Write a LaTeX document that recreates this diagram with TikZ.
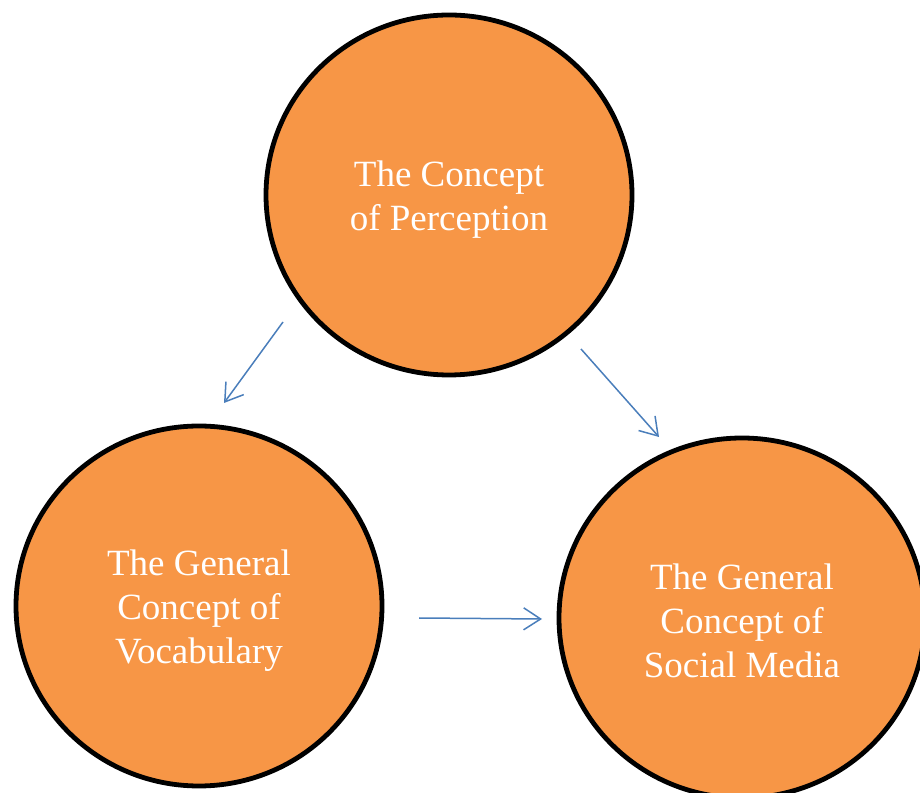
\documentclass[tikz,border=0pt]{standalone}
\usepackage{fontspec}
\setmainfont{Liberation Serif}
\usetikzlibrary{shapes.geometric,arrows.meta}
\definecolor{orangefill}{HTML}{F79646}
\definecolor{arrowblue}{HTML}{4A7EBB}
\tikzset{
  concept/.style={ellipse, draw=black, line width=4.8pt, fill=orangefill,
    minimum width=366pt, minimum height=360pt, inner sep=0pt},
  ctext/.style={text=white, align=center, yshift=-5pt,
    font=\fontsize{37}{44}\selectfont},
  link/.style={draw=arrowblue, line width=1.5pt,
    -{Straight Barb[length=17pt,width=22pt,line width=1.5pt]}}
}
\begin{document}
\begin{tikzpicture}[x=1pt,y=1pt]
\useasboundingbox (0,0) rectangle (920,792);
\clip (0,0) rectangle (920,792);
\node[concept, label={[ctext]center:{The Concept\\of Perception}}] (perc) at (449,597) {};
\node[concept, label={[ctext]center:{The General\\Concept of\\Vocabulary}}] (vocab) at (199,186) {};
\node[concept, label={[ctext, yshift=2pt]center:{The General\\Concept of\\Social Media}}] (social) at (742,174) {};
\coordinate (a1s) at (283,470);
\coordinate (a1e) at (224,389);
\coordinate (a2s) at (581,443);
\coordinate (a2e) at (659,355);
\coordinate (a3s) at (419,174);
\coordinate (a3e) at (542,173);
\draw[link] (a1s) -- (a1e);
\draw[link] (a2s) -- (a2e);
\draw[link] (a3s) -- (a3e);
\end{tikzpicture}
\end{document}
